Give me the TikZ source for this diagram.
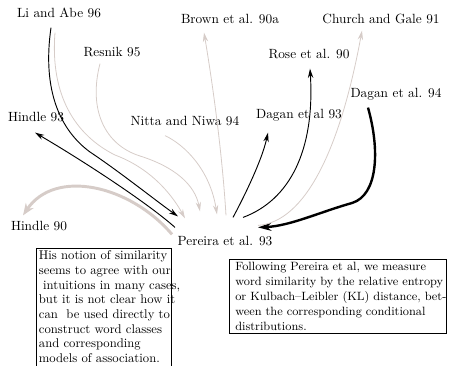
\documentclass[tikz,border=0pt]{standalone}
\usepackage{tikz}
\usetikzlibrary{arrows.meta}

\definecolor{linkgray}{RGB}{214,204,200}

\begin{document}
\begin{tikzpicture}[x=0.75pt,y=-0.75pt,>={Stealth[length=7pt,width=4pt]},
    ref/.style={inner sep=1pt,text height=7pt,text depth=2pt},
    note/.style={draw,anchor=north west,align=left,inner ysep=2pt},
    cite/.style={->,line width=0.7pt},
    grey/.style={->,line width=0.6pt,linkgray},
    heavy/.style={-{Stealth[length=10pt,width=6pt]},line width=1.8pt}]
                        \useasboundingbox (0,0) rectangle (449,365);
                        % works and their labels
                        \node[ref] (lab) at (59,14) {Li and Abe 96};
                        \node[ref] (brown) at (230,20) {Brown et al. 90a};
                        \node[ref] (church) at (381,20) {Church and Gale 91};
                        \node[ref] (resnik) at (112,53) {Resnik 95};
                        \node[ref] (rose) at (309,55) {Rose et al. 90};
                        \node[ref] (dagan94) at (396,94) {Dagan et al. 94};
                        \node[ref] (dagan93) at (299,115) {Dagan et al 93};
                        \node[ref] (hindle93) at (36,118) {Hindle 93};
                        \node[ref] (nitta) at (185,122) {Nitta and Niwa 94};
                        \node[ref] (hindle90) at (39,227) {Hindle 90};
                        \node[ref] (pereira) at (225,242) {Pereira et al. 93};
                        % citations towards Pereira et al. 93
                        \draw[cite] ([shift={(-8,6)}]lab.south)
                            .. controls (42,90) and (60,130) .. (90,152)
                            .. controls (120,172) and (155,200) .. ([shift={(-47,-18)}]pereira.north);
                        \draw[grey] ([shift={(-4,11)}]lab.south)
                            .. controls (50,95) and (75,135) .. (115,155)
                            .. controls (155,170) and (175,200) .. ([shift={(-40,-16)}]pereira.north);
                        \draw[grey] ([shift={(-12,3)}]resnik.south)
                            .. controls (88,110) and (105,145) .. (140,156)
                            .. controls (175,167) and (195,185) .. ([shift={(-25,-23)}]pereira.north);
                        \draw[grey] ([shift={(-20,6)}]nitta.south)
                            .. controls (185,145) and (210,170) .. ([shift={(-8,-20)}]pereira.north);
                        \draw[heavy] ([shift={(-28,6)}]dagan94.south)
                            .. controls (380,150) and (378,195) .. (352,203)
                            .. controls (320,212) and (290,226) .. ([shift={(33,-7)}]pereira.north);
                        % citations from Pereira et al. 93
                        \draw[grey] ([shift={(1,-19)}]pereira.north)
                            .. controls (222,150) and (212,80) .. ([shift={(-26,5)}]brown.south);
                        \draw[grey] ([shift={(33,-9)}]pereira.north)
                            .. controls (305,222) and (340,150) .. ([shift={(-19,3)}]church.south);
                        \draw[cite] ([shift={(18,-17)}]pereira.north)
                            .. controls (290,200) and (315,150) .. ([shift={(1,6)}]rose.south);
                        \draw[cite] ([shift={(8,-17)}]pereira.north)
                            .. controls (245,195) and (262,160) .. ([shift={(-31,10)}]dagan93.south);
                        \draw[cite] ([shift={(-50,-7)}]pereira.north)
                            .. controls (150,205) and (90,165) .. ([shift={(-1,7)}]hindle93.south);
                        \draw[->,line width=2.2pt,linkgray,>={Stealth[length=9pt,width=7pt]}]
                            ([shift={(-53,0)}]pereira.north)
                            .. controls (130,185) and (55,168) .. ([shift={(-16,-4)}]hindle90.north);
                        % quoted remarks
                        \node[note,inner xsep=2pt,text width=97pt,
                              font=\fontsize{9.5pt}{11pt}\selectfont] (remarka) at (36,248)
                            {\mbox{His notion of similarity}\\
                             \mbox{seems to agree with our}\\
                             \mbox{\ intuitions in many cases,}\\
                             \mbox{but it is not clear how it}\\
                             \mbox{can\ \ be used directly to}\\
                             \mbox{construct word classes}\\
                             \mbox{and corresponding}\\
                             \mbox{models of association.}\\
                             \strut};
                        \node[note,inner xsep=4.5pt,text width=154pt,
                              font=\fontsize{9pt}{11.2pt}\selectfont] (remarkb) at (229,259)
                            {\mbox{Following Pereira et al, we measure}\\
                             \mbox{word similarity by the relative entropy}\\
                             \mbox{or Kulbach--Leibler (KL) distance, bet-}\\
                             \mbox{ween the corresponding conditional}\\
                             \mbox{distributions.}};
                    \end{tikzpicture}
\end{document}
